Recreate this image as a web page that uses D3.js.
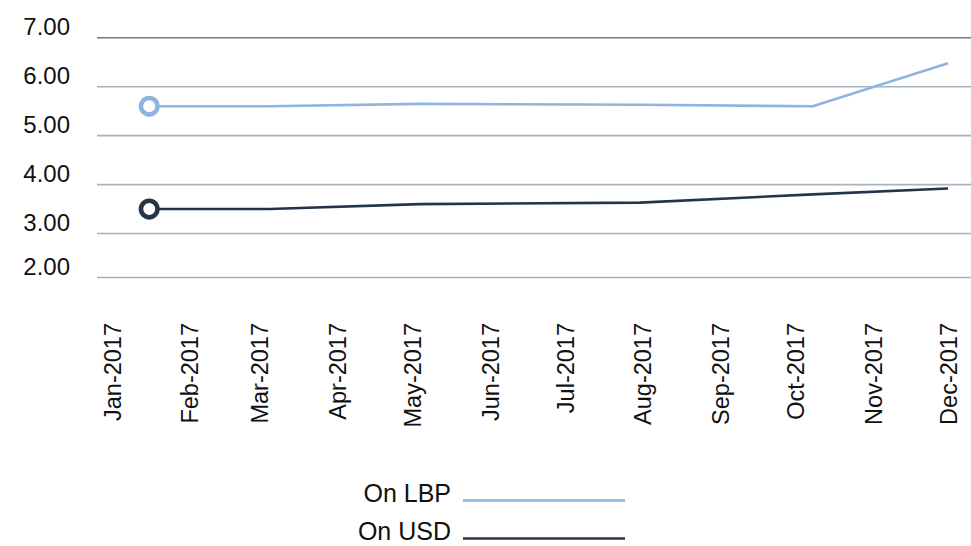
<!DOCTYPE html>
<html>
<head>
<meta charset="utf-8">
<script src="https://cdn.jsdelivr.net/npm/d3@7"></script>
<style>
  html, body { margin: 0; padding: 0; background: #fff; }
  svg { display: block; }
  text { font-family: "Liberation Sans", Arial, sans-serif; fill: #111; }
</style>
</head>
<body>
<svg id="chart" width="971" height="546"></svg>
<script>
// Observation dates and rates (%)
const dates = ["2017-01-16", "2017-03-05", "2017-05-04", "2017-07-31", "2017-10-08", "2017-12-01"];
const onLBP = [5.59, 5.59, 5.64, 5.62, 5.59, 6.47];
const onUSD = [3.49, 3.49, 3.59, 3.62, 3.79, 3.91];

const seriesNames = ["On LBP", "On USD"];
const seriesColors = ["#8db4e2", "#243548"];

const yTicks = [2, 3, 4, 5, 6, 7];
const monthTicks = ["2017-01-01", "2017-02-01", "2017-03-01", "2017-04-01", "2017-05-01", "2017-06-01",
                    "2017-07-01", "2017-08-01", "2017-09-01", "2017-10-01", "2017-11-01", "2017-12-01"];

const svg = d3.select("#chart");
const parse = d3.utcParse("%Y-%m-%d");
const fmtMonth = d3.utcFormat("%b-%Y");

const left = 97, right = 971;

const x = d3.scaleUtc()
  .domain([parse("2017-01-01"), parse("2017-12-01")])
  .range([111.7, 948]);

// axis floor sits a little closer to the 3.00 line than the regular step
const y = d3.scaleLinear()
  .domain([2, 3, 7])
  .range([277, 233, 37.3]);

// gridlines + y labels
const yAxis = d3.axisLeft(y)
  .tickValues(yTicks)
  .tickFormat(d3.format(".2f"))
  .tickSize(-(right - left))
  .tickPadding(0);

const gy = svg.append("g")
  .attr("transform", `translate(${left},0)`)
  .call(yAxis);
gy.select(".domain").remove();
gy.selectAll(".tick line")
  .attr("stroke", d => d === 7 ? "#6a7c93" : "#a7b3c3")
  .attr("stroke-width", 1.6);
gy.selectAll(".tick text")
  .attr("x", 70 - left)
  .attr("dy", -2.5)
  .attr("text-anchor", "end")
  .style("font-family", "'Liberation Sans', Arial, sans-serif")
  .style("font-size", "24px")
  .style("fill", "#111");

// month labels, rotated
const xAxis = d3.axisBottom(x)
  .tickValues(monthTicks.map(parse))
  .tickFormat(fmtMonth)
  .tickSize(0);

const gx = svg.append("g")
  .attr("transform", "translate(0,323)")
  .call(xAxis);
gx.select(".domain").remove();
gx.selectAll(".tick text")
  .attr("transform", "rotate(-90)")
  .attr("x", 0)
  .attr("y", 0)
  .attr("dy", "0.36em")
  .attr("text-anchor", "end")
  .style("font-family", "'Liberation Sans', Arial, sans-serif")
  .style("font-size", "23.5px")
  .style("fill", "#111");

// series lines
const series = [onLBP, onUSD].map((vals, i) => ({
  name: seriesNames[i],
  color: seriesColors[i],
  points: dates.map((d, j) => ({ date: parse(d), value: vals[j] }))
}));

const line = d3.line()
  .x(d => x(d.date))
  .y(d => y(d.value));

svg.append("g").selectAll("path")
  .data(series)
  .join("path")
  .attr("d", d => line(d.points))
  .attr("fill", "none")
  .attr("stroke", d => d.color)
  .attr("stroke-width", 2.6)
  .attr("stroke-linejoin", "round");

// hollow marker on the first observation
svg.append("g").selectAll("circle")
  .data(series)
  .join("circle")
  .attr("cx", d => x(d.points[0].date))
  .attr("cy", d => y(d.points[0].value))
  .attr("r", 8.3)
  .attr("fill", "#fff")
  .attr("stroke", d => d.color)
  .attr("stroke-width", 4.6);

// legend
const legend = svg.append("g").selectAll("g")
  .data(series)
  .join("g")
  .attr("transform", (d, i) => `translate(0,${500.5 + i * 38})`);
legend.append("text")
  .attr("x", 451)
  .attr("y", -8)
  .attr("dy", "0.36em")
  .attr("text-anchor", "end")
  .style("font-size", "25px")
  .text(d => d.name);
legend.append("line")
  .attr("x1", 463)
  .attr("x2", 625)
  .attr("y1", 0)
  .attr("y2", 0)
  .attr("stroke", d => d.color)
  .attr("stroke-width", 2.6);
</script>
</body>
</html>
